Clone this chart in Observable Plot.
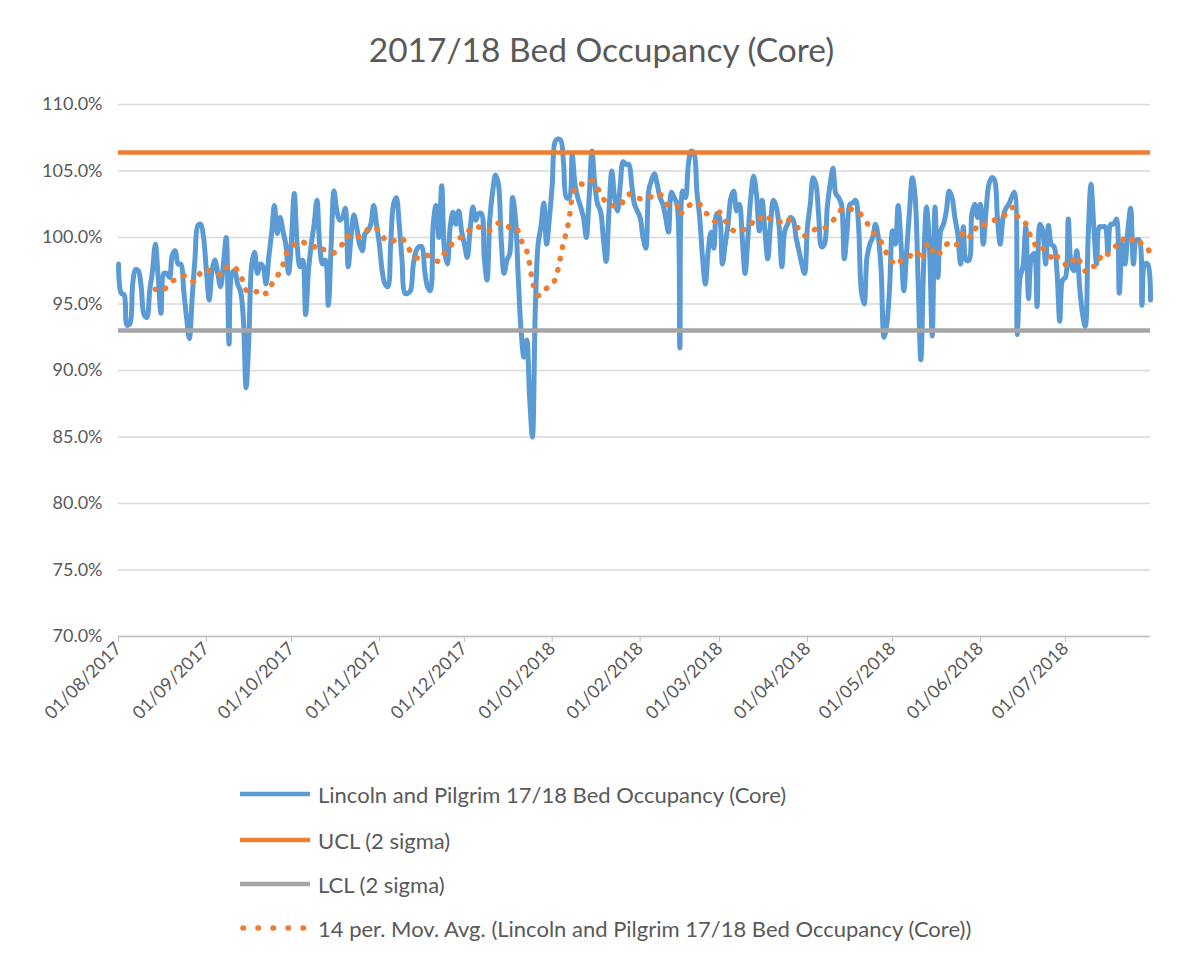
<!DOCTYPE html>
<html><head><meta charset="utf-8">
<script src="https://cdn.jsdelivr.net/npm/d3@7"></script>
<script src="https://cdn.jsdelivr.net/npm/@observablehq/plot@0.6"></script>
<style>
body{margin:0;background:#fff;}
#wrap{position:relative;width:1195px;height:960px;font-family:Lato,"Liberation Sans",sans-serif;color:#595959;overflow:hidden;background:#fff}
#title{position:absolute;left:4px;width:1195px;top:29px;text-align:center;font-size:33.5px;}
#chart{position:absolute;left:0;top:0}
.leg{position:absolute;left:240px;font-size:22px;display:flex;align-items:center;height:30px;white-space:nowrap}
.leg svg{margin-right:8px}
</style></head><body>
<div id="wrap"><div id="chart"></div><div id="title">2017/18 Bed Occupancy (Core)</div><div id="legend"></div></div>
<script>
// Daily bed occupancy (%) from 01/08/2017 to 31/07/2018
const occupancy = [
  98.0, 95.8, 95.7, 93.4, 93.5, 96.5, 97.6, 97.5, 96.3, 94.2,
  94.0, 96.0, 97.5, 99.5, 97.0, 94.3, 97.3, 97.3, 97.0, 98.7,
  99.0, 98.0, 98.0, 96.0, 94.0, 92.4, 95.5, 98.5, 100.9, 101.0,
  100.0, 97.5, 95.3, 97.5, 98.3, 97.3, 96.3, 98.0, 100.0, 92.0,
  97.3, 97.5, 96.5, 96.0, 94.0, 88.7, 92.5, 98.0, 98.9, 97.3,
  98.0, 97.8, 96.5, 98.5, 100.3, 102.4, 100.3, 101.5, 100.5, 99.5,
  97.3, 99.8, 103.3, 99.5, 97.8, 98.3, 94.2, 97.5, 99.5, 101.0,
  102.8, 99.3, 98.0, 98.3, 94.9, 99.3, 103.5, 102.0, 101.3, 101.5,
  102.2, 97.8, 100.0, 101.7, 100.8, 99.5, 99.0, 100.3, 100.5, 101.0,
  102.4, 101.0, 99.5, 97.5, 96.5, 96.3, 99.5, 102.5, 103.0, 101.0,
  98.3, 95.8, 95.8, 96.0, 98.0, 99.0, 99.3, 99.3, 97.5, 96.3,
  96.0, 101.0, 102.4, 100.0, 103.9, 99.0, 98.0, 100.8, 101.9, 101.0,
  102.0, 100.5, 99.5, 98.5, 100.5, 102.3, 101.3, 101.8, 101.8, 98.5,
  96.8, 101.5, 103.5, 104.7, 104.0, 99.8, 97.3, 98.3, 98.8, 103.0,
  101.5, 97.0, 93.0, 91.0, 92.3, 88.0, 85.0, 94.5, 99.5, 100.8,
  102.6, 99.5, 101.5, 104.0, 107.2, 107.4, 107.3, 105.5, 103.0, 103.0,
  106.3, 104.0, 103.0, 102.3, 101.5, 100.0, 103.0, 106.5, 104.0, 102.5,
  102.0, 100.0, 98.2, 102.0, 105.0, 103.0, 102.0, 104.0, 105.7, 105.5,
  105.5, 104.0, 102.5, 102.0, 101.5, 100.0, 99.2, 103.5, 104.3, 104.8,
  104.0, 103.0, 102.5, 101.5, 100.4, 103.4, 103.0, 102.5, 91.7, 103.5,
  103.0, 105.5, 106.5, 106.3, 103.5, 101.5, 98.5, 96.5, 99.0, 100.4,
  99.2, 101.8, 101.5, 98.0, 99.5, 101.0, 103.0, 103.5, 102.0, 102.5,
  100.0, 97.3, 100.0, 103.0, 104.6, 103.3, 100.5, 102.8, 100.5, 98.4,
  101.0, 102.8, 102.3, 100.8, 97.8, 100.5, 101.0, 101.5, 101.3, 100.0,
  99.0, 98.0, 97.3, 100.8, 102.5, 104.5, 104.0, 101.5, 99.3, 99.5,
  102.3, 104.0, 105.2, 103.3, 103.0, 102.5, 98.4, 100.5, 102.5, 102.6,
  102.8, 101.0, 96.0, 95.0, 98.5, 99.5, 100.0, 101.0, 100.0, 97.5,
  92.5, 93.5, 96.3, 100.5, 99.5, 102.4, 99.5, 96.0, 99.0, 102.0,
  104.5, 103.0, 97.0, 90.8, 98.0, 102.3, 99.5, 92.6, 102.3, 97.0,
  100.5, 101.0, 102.0, 103.5, 103.0, 101.5, 100.3, 98.0, 100.8, 98.3,
  98.3, 101.8, 102.5, 101.5, 102.5, 99.5, 102.0, 104.0, 104.5, 104.3,
  101.5, 99.5, 101.5, 102.2, 102.5, 103.0, 103.4, 92.7, 97.0, 97.8,
  100.8, 95.4, 98.5, 98.8, 94.8, 101.0, 100.5, 98.0, 100.9, 99.5,
  99.3, 97.5, 93.7, 96.8, 97.0, 101.4, 98.0, 97.5, 99.0, 96.3,
  94.3, 93.3, 100.0, 104.0, 100.8, 98.0, 100.8, 100.8, 100.8, 98.8,
  101.0, 101.0, 101.4, 95.8, 99.5, 98.0, 100.5, 102.2, 98.0, 99.8,
  99.8, 94.9, 98.0, 98.0, 95.3
];
const uclValue = 106.4;   // UCL (2 sigma)
const lclValue = 93.0;    // LCL (2 sigma)
const yTicks = [70, 75, 80, 85, 90, 95, 100, 105, 110];
const seriesNames = [
  "Lincoln and Pilgrim 17/18 Bed Occupancy (Core)",
  "UCL (2 sigma)",
  "LCL (2 sigma)",
  "14 per. Mov. Avg. (Lincoln and Pilgrim 17/18 Bed Occupancy (Core))"
];
const colors = ["#5b9bd5", "#ed7d31", "#a5a5a5", "#ed7d31"];

const start = new Date(Date.UTC(2017, 7, 1));
const dates = d3.utcDay.range(start, d3.utcDay.offset(start, occupancy.length));
const data = occupancy.map((v, i) => ({date: dates[i], value: v}));
const monthTicks = d3.utcMonth.range(start, new Date(Date.UTC(2018, 7, 1)));

const chart = Plot.plot({
  width: 1195, height: 780,
  marginLeft: 118, marginRight: 45, marginTop: 104, marginBottom: 144,
  style: {fontFamily: "Lato, 'Liberation Sans', sans-serif", fontSize: "18px", color: "#595959", background: "transparent"},
  x: {type: "utc", domain: [dates[0], dates[dates.length - 1]]},
  y: {domain: [70, 110]},
  marks: [
    Plot.gridY(yTicks, {stroke: "#d9d9d9", strokeOpacity: 1, strokeWidth: 1.3}),
    Plot.axisY(yTicks, {tickSize: 0, tickPadding: 16, tickFormat: d => d.toFixed(1) + "%", label: null, fill: "#595959"}),
    Plot.axisX(monthTicks, {tickFormat: d3.utcFormat("%d/%m/%Y"), tickRotate: -45, tickSize: 6, tickPadding: 3, stroke: "#bfbfbf", fill: "#595959", label: null}),
    Plot.ruleY([70], {stroke: "#bfbfbf", strokeWidth: 1.3}),
    Plot.lineY(data, {x: "date", y: "value", stroke: colors[0], strokeWidth: 5, curve: "catmull-rom", strokeLinejoin: "round", strokeLinecap: "round"}),
    Plot.ruleY([uclValue], {stroke: colors[1], strokeWidth: 4.5}),
    Plot.ruleY([lclValue], {stroke: colors[2], strokeWidth: 4.5}),
    Plot.lineY(data, Plot.windowY({k: 14, anchor: "end", strict: true},
      {x: "date", y: "value", stroke: colors[3], strokeWidth: 5.5, curve: "catmull-rom", strokeDasharray: "0.5 11", strokeLinecap: "round"}))
  ]
});
document.getElementById("chart").appendChild(chart);

// legend
const legendY = [795, 841, 885, 929];
const legend = document.getElementById("legend");
seriesNames.forEach((name, i) => {
  const row = document.createElement("div");
  row.className = "leg";
  row.style.top = (legendY[i] - 16) + "px";
  const dotted = i === 3;
  row.innerHTML = `<svg width="70" height="20"><line x1="${dotted ? 3 : 0}" x2="${dotted ? 64 : 70}" y1="10" y2="10" stroke="${colors[i]}" stroke-width="${dotted ? 5.5 : 4.5}" ${dotted ? 'stroke-dasharray="0.5 14.5" stroke-linecap="round"' : ''}/></svg><span></span>`;
  row.querySelector("span").textContent = name;
  legend.appendChild(row);
});
</script>
</body></html>
